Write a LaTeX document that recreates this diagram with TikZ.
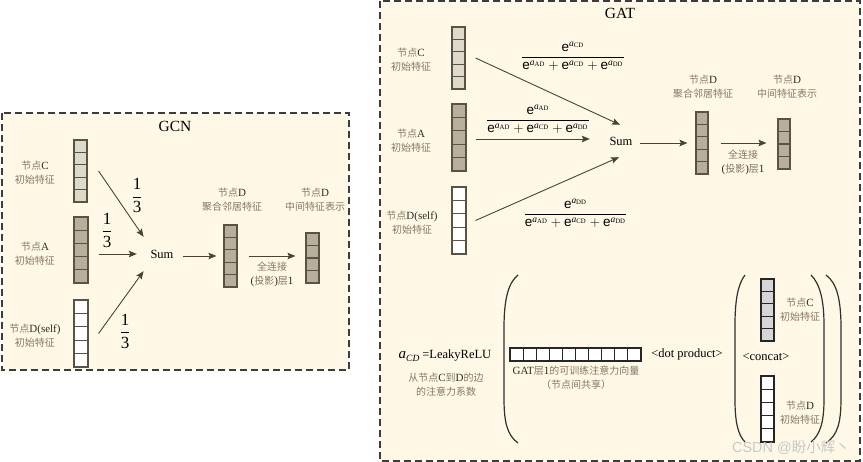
\RequirePackage{fix-cm}
\documentclass[tikz,border=0pt]{standalone}
\usepackage{fontspec}
\usepackage{amsmath}
\setmainfont{Liberation Serif}
\setsansfont{Liberation Sans}
\newfontfamily\cjk{Noto Sans CJK SC}
\usetikzlibrary{arrows.meta,calc}

\definecolor{panelbg}{HTML}{FFF8E7}
\definecolor{panelline}{HTML}{3C3C3C}
\definecolor{cellline}{HTML}{5A5242}
\definecolor{cellblack}{HTML}{262626}
\definecolor{celllight}{HTML}{DEDACB}
\definecolor{celldark}{HTML}{B7AF9B}
\definecolor{cellgray}{HTML}{D6D6D6}
\definecolor{arrcol}{HTML}{484334}
\definecolor{lblcol}{HTML}{857662}
\definecolor{latcol}{HTML}{2E2A22}
\definecolor{wmcol}{HTML}{C8C8C8}
\definecolor{parencol}{HTML}{303030}

\newcommand\zh[1]{{\cjk\fontsize{10}{14}\selectfont\color{lblcol}#1}}
\newcommand\ee[1]{\text{\sffamily e}^{\textit{a}_{\text{#1}}}}
\newcommand\gatfrac[3]{$\dfrac{\ee{#1}}{\ee{#2}+\ee{#3}+\ee{DD}}$}

\tikzset{
  panel/.style={draw=panelline, fill=panelbg, line width=1.6pt, dash pattern=on 7pt off 4pt},
  vbox/.style={draw=cellline, line width=1.1pt, inner sep=0pt, minimum width=13pt},
  vcells/.style n args={3}{path picture={
      \foreach \i in {1,...,#1}{
        \draw[#3, line width=1.1pt]
          ($(path picture bounding box.north west)!{\i/#2}!(path picture bounding box.south west)$) --
          ($(path picture bounding box.north east)!{\i/#2}!(path picture bounding box.south east)$);}}},
  hcells/.style n args={3}{path picture={
      \foreach \i in {1,...,#1}{
        \draw[#3, line width=1.1pt]
          ($(path picture bounding box.north west)!{\i/#2}!(path picture bounding box.north east)$) --
          ($(path picture bounding box.south west)!{\i/#2}!(path picture bounding box.south east)$);}}},
  arr/.style={draw=arrcol, line width=0.9pt, -{Stealth[length=8pt,width=6.5pt,inset=1.5pt]}},
  lbl/.style={text=latcol, align=center, inner sep=0pt, font=\fontsize{11}{14}\selectfont},
  title/.style={inner sep=0pt, font=\fontsize{15.5}{16}\selectfont},
  sumtxt/.style={inner sep=0pt, font=\fontsize{12.5}{13}\selectfont},
  onethird/.style={anchor=base, inner sep=0pt, font=\fontsize{17}{17}\selectfont},
  gfrac/.style={anchor=base, inner sep=0pt, font=\fontsize{13.5}{14}\selectfont},
  paren/.style={draw=parencol, line width=1.2pt},
  optxt/.style={inner sep=0pt, font=\fontsize{12.5}{13}\selectfont}
}

\begin{document}
\begin{tikzpicture}[x=1pt,y=-1pt]
\useasboundingbox (0,0) rectangle (863,462);

% panels
\draw[panel] (2,113) rectangle (349,370);
\draw[panel] (380,1) rectangle (860,461);

% ================= GCN =================
\node[title] (gT) at (175,126) {GCN};

\node[vbox, fill=celllight, minimum height=62pt, vcells={4}{5}{cellline}] (gC) at (80.5,171) {};
\node[vbox, fill=celldark, minimum width=14pt, minimum height=66pt, vcells={4}{5}{cellline}] (gA) at (81,250) {};
\node[vbox, fill=white, minimum width=14pt, minimum height=67pt, vcells={4}{5}{cellline}] (gD) at (81,333.5) {};

\node[lbl] (lgC) at (35,173) {\zh{节点}C\\\zh{初始特征}};
\node[lbl] (lgA) at (35,253.5) {\zh{节点}A\\\zh{初始特征}};
\node[lbl] (lgD) at (35,335.5) {\zh{节点}D(self)\\\zh{初始特征}};

\node[sumtxt, circle, minimum size=50pt] (gS) at (162,254) {Sum};

\draw[arr] ([xshift=11pt]gC.east) -- (gS.137);
\draw[arr] ([xshift=10pt]gA.east |- gS.west) -- (gS.west);
\draw[arr] ([xshift=10pt]gD.east) -- (gS.223);

\node[onethird] (gf1) at (137,201.2) {$\dfrac{\text{1}}{\text{3}}$};
\node[onethird] (gf2) at (107,236) {$\dfrac{\text{1}}{\text{3}}$};
\node[onethird] (gf3) at (125,337) {$\dfrac{\text{1}}{\text{3}}$};

\node[vbox, fill=celldark, minimum height=62pt, vcells={4}{5}{cellline}] (gAgg) at (230.5,256) {};
\node[vbox, fill=celldark, minimum height=50pt, vcells={3}{4}{cellline}] (gOut) at (312.5,258) {};

\node[lbl] (lgAgg) at (232,199.5) {\zh{节点}D\\\zh{聚合邻居特征}};
\node[lbl] (lgOut) at (315,199.5) {\zh{节点}D\\\zh{中间特征表示}};
\node[lbl] (lgFc) at (272,274.5) {\zh{全连接}\\(\zh{投影})\zh{层}1};

\draw[arr] ([xshift=-4pt]gS.east |- gAgg.west) -- ([xshift=-7pt]gAgg.west);
\draw[arr] ([xshift=11pt]gAgg.east) -- ([xshift=-10pt]gOut.west |- gAgg.east);

% ================= GAT =================
\node[title] (tT) at (620,13) {GAT};

\node[vbox, fill=celllight, minimum height=62pt, vcells={4}{5}{cellline}] (tC) at (458.5,58) {};
\node[vbox, fill=celldark, minimum width=14pt, minimum height=67pt, vcells={4}{5}{cellline}] (tA) at (459,137.5) {};
\node[vbox, fill=white, minimum width=14pt, minimum height=67pt, vcells={4}{5}{cellline}] (tD) at (459,220.5) {};

\node[lbl] (ltC) at (411,60) {\zh{节点}C\\\zh{初始特征}};
\node[lbl] (ltA) at (411,140.5) {\zh{节点}A\\\zh{初始特征}};
\node[lbl] (ltD) at (412,223) {\zh{节点}D(self)\\\zh{初始特征}};

\node[sumtxt, minimum width=24pt, minimum height=32pt] (tS) at (621,141) {Sum};

\draw[arr] ([xshift=10pt]tC.east) -- ([xshift=-1pt]tS.north);
\draw[arr] ([xshift=9pt,yshift=-1.5pt]tA.east) -- ([xshift=-19pt,yshift=2pt]tS.west);
\draw[arr] ([xshift=9pt]tD.east) -- ([xshift=-2pt]tS.south);

\node[gfrac] (tf1) at (573,60.4) {\gatfrac{CD}{AD}{CD}};
\node[gfrac] (tf2) at (538,123.4) {\gatfrac{AD}{AD}{CD}};
\node[gfrac] (tf3) at (575.5,217.4) {\gatfrac{DD}{AD}{CD}};

\node[vbox, fill=celldark, minimum width=12pt, minimum height=62pt, vcells={4}{5}{cellline}] (tAgg) at (702,143) {};
\node[vbox, fill=celldark, minimum width=12pt, minimum height=50pt, vcells={3}{4}{cellline}] (tOut) at (784,144) {};

\node[lbl] (ltAgg) at (703,86.5) {\zh{节点}D\\\zh{聚合邻居特征}};
\node[lbl] (ltOut) at (787,86.5) {\zh{节点}D\\\zh{中间特征表示}};
\node[lbl] (ltFc) at (743,162) {\zh{全连接}\\(\zh{投影})\zh{层}1};

\draw[arr] ([xshift=7pt,yshift=-2pt]tS.east) -- ([xshift=-8pt]tAgg.west);
\draw[arr] ([xshift=12pt]tAgg.east) -- ([xshift=-11pt]tOut.west |- tAgg.east);

% ================= attention coefficient =================
\node[anchor=base, inner sep=0pt] (eq) at (445,359)
  {{\fontsize{15}{15}\selectfont\textit{a}}\raisebox{-3pt}{\fontsize{9.5}{10}\selectfont\textit{CD}}\hspace{3pt}{\fontsize{12.5}{12}\selectfont =LeakyReLU}};
\node[lbl] (leq) at (446,385) {\zh{从节点}C\zh{到}D\zh{的边}\\\zh{的注意力系数}};

\draw[paren] (518,275) .. controls (508,283) and (504,300) .. (504,328) -- (504,398) .. controls (504,422) and (507,435) .. (518,443);
\draw[paren] (826,275) .. controls (837,283) and (841,300) .. (841,328) -- (841,398) .. controls (841,422) and (838,435) .. (826,443);
\draw[paren] (745,275) .. controls (738,284) and (735,300) .. (735,325) -- (735,400) .. controls (735,422) and (738,435) .. (745,442);
\draw[paren] (811,275) .. controls (820,284) and (824,300) .. (824,325) -- (824,400) .. controls (824,422) and (820,435) .. (811,442);

\node[draw=cellblack, line width=1.1pt, fill=white, inner sep=0pt, minimum width=131pt, minimum height=13pt, hcells={9}{10}{cellblack}] (hV) at (575.5,354.5) {};
\node[lbl] (lhV) at (576,378) {GAT\zh{层}1\zh{的可训练注意力向量}\\\zh{（节点间共享）}};

\node[optxt] (dp) at (687,354) {<dot product>};

\node[vbox, draw=cellblack, fill=cellgray, minimum height=62pt, vcells={4}{5}{cellblack}] (bC) at (767.5,310) {};
\node[vbox, draw=cellblack, fill=white, minimum height=66pt, vcells={4}{5}{cellblack}] (bD) at (767.5,409) {};
\node[optxt] (cc) at (766,357) {<concat>};
\node[lbl] (lbC) at (800,310) {\zh{节点}C\\\zh{初始特征}};
\node[lbl] (lbD) at (800,412.5) {\zh{节点}D\\\zh{初始特征}};

% watermark
\node[inner sep=0pt, text=wmcol, font=\sffamily\fontsize{14.5}{15}\selectfont] (wm) at (791,448) {CSDN @{\cjk 盼小辉丶}};
\end{tikzpicture}
\end{document}
